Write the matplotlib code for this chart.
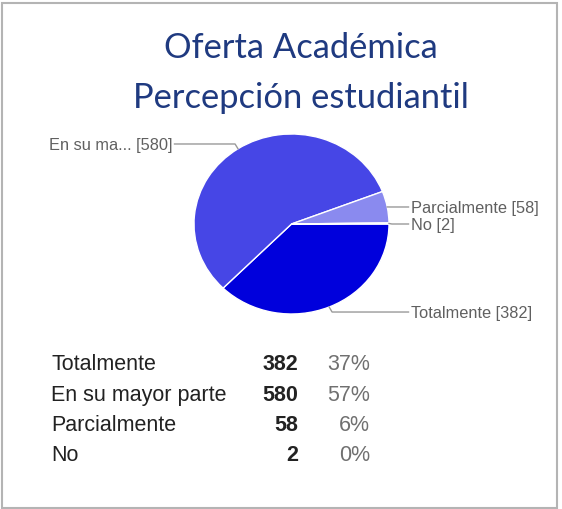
import matplotlib
matplotlib.use("Agg")
import matplotlib.pyplot as plt
import numpy as np
from matplotlib.patches import Rectangle

categories = ["Totalmente", "En su mayor parte", "Parcialmente", "No"]
pie_labels = ["Totalmente", "En su ma...", "Parcialmente", "No"]
counts = [382, 580, 58, 2]
colors = ["#0000DC", "#4646E6", "#8A8AEF", "#B8B8F6"]
title_lines = ["Oferta Académica", "Percepción estudiantil"]

W, H = 562, 510
fig = plt.figure(figsize=(W / 100, H / 100), dpi=100)


def fx(px):
    return px / W


def fy(py):
    return 1 - py / H


# outer frame
fig.add_artist(Rectangle((fx(2), fy(509)), fx(557) - fx(2), fy(4) - fy(509),
                         transform=fig.transFigure, fill=False,
                         edgecolor="#B4B4B4", linewidth=1.5))

# title
for line, base in zip(title_lines, [58, 108]):
    fig.text(fx(301), fy(base), line, family="Lato", fontsize=24.8,
             color="#1F3A80", ha="center", va="baseline")

# pie (slightly wider than tall, like the reference)
ax = fig.add_axes([fx(194), fy(315), (389 - 194) / W, (315 - 135) / H])
wedges, _ = ax.pie(counts, colors=colors, startangle=0, counterclock=False,
                   wedgeprops=dict(edgecolor="white", linewidth=1))
ax.set_aspect("auto")
ax.set_xlim(-1, 1)
ax.set_ylim(-1, 1)

label_y = [-0.978, 0.889, 0.189, 0.0]
for w, name, n, ly in zip(wedges, pie_labels, counts, label_y):
    theta = np.deg2rad((w.theta1 + w.theta2) / 2)
    x0, y0 = np.cos(theta), np.sin(theta)
    side = 1 if x0 >= 0 else -1
    ex = x0 + 0.03 * side
    end = 1.20 * side
    ax.plot([x0, ex, end], [y0, ly, ly], color="#9A9A9A", lw=1, clip_on=False)
    ax.text(end + 0.025 * side, ly - 0.01, f"{name} [{n}]",
            ha="left" if side > 0 else "right", va="center",
            family="Liberation Sans", fontsize=11.8, color="#606060",
            clip_on=False)

# summary table
total = sum(counts)
for i, (name, n) in enumerate(zip(categories, counts)):
    y = fy(365 + 30.3 * i)
    fig.text(fx(51), y, name, family="Liberation Sans", fontsize=15.5,
             color="#222222", ha="left", va="center")
    fig.text(fx(298), y, f"{n}", family="Liberation Sans", fontsize=15.5,
             fontweight="bold", color="#222222", ha="right", va="center")
    fig.text(fx(370), y, f"{round(n / total * 100):.0f}%",
             family="Liberation Sans", fontsize=15.5, color="#707070",
             ha="right", va="center")

fig.savefig("out.png", dpi=100)
